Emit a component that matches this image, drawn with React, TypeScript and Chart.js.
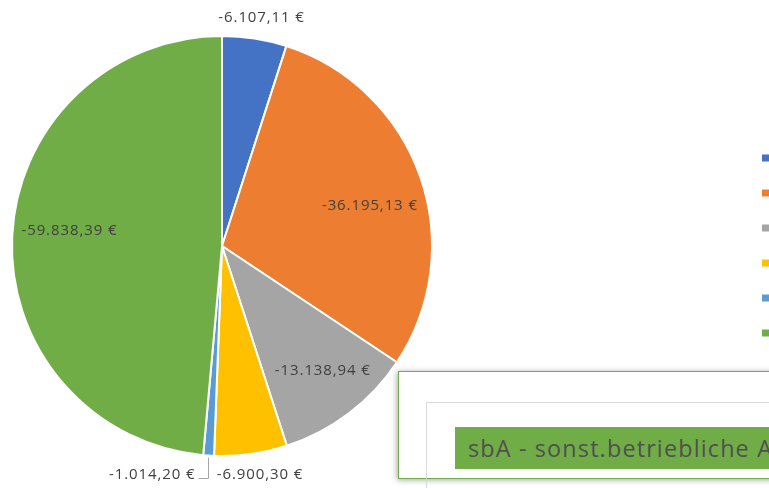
import React, { useEffect, useRef } from "react";
import { Chart, registerables } from "chart.js";

Chart.register(...registerables);

const categories = [
  "sbA - Position 1",
  "sbA - Position 2",
  "sbA - Position 3",
  "sbA - Position 4",
  "sbA - Position 5",
  "sbA - Position 6",
];
const values = [-6107.11, -36195.13, -13138.94, -6900.3, -1014.2, -59838.39];
const colors = ["#4472C4", "#ED7D31", "#A5A5A5", "#FFC000", "#5B9BD5", "#70AD47"];
// label placement style per slice: "outside", "inside", "leader"
const labelModes = ["outside", "inside", "inside", "outside", "leader", "inside"];
const labelRadius = [1.1, 0.73, 0.765, 1.1, 1, 0.73];
const labelAngleShift = [0.9, 4, -1.7, -1.5, 0, 3];
const boxTitle = "sbA - sonst.betriebliche Aufwendungen";

const FONT = "'Open Sans', Lato, sans-serif";

function fmt(v: number): string {
  const neg = v < 0;
  const a = Math.abs(v);
  const fixed = a.toFixed(2);
  const [intPart, dec] = fixed.split(".");
  const withDots = intPart.replace(/\B(?=(\d{3})+(?!\d))/g, ".");
  return (neg ? "-" : "") + withDots + "," + dec + " €";
}

function drawSpaced(ctx: any, text: string, x: number, y: number, align: string) {
  ctx.textAlign = "left";
  const w = ctx.measureText(text).width;
  let sx = x;
  if (align === "center") sx = x - w / 2;
  else if (align === "right") sx = x - w;
  ctx.fillText(text, sx, y);
}

const labelPlugin = {
  id: "sliceLabels",
  afterDatasetsDraw(chart: any) {
    const ctx = chart.ctx;
    const meta = chart.getDatasetMeta(0);
    const data = chart.data.datasets[0].data as number[];
    ctx.save();
    ctx.font = `15px ${FONT}`;
    try {
      ctx.letterSpacing = "0.9px";
    } catch (e) {}
    ctx.fillStyle = "#404040";
    ctx.textBaseline = "middle";
    meta.data.forEach((arc: any, i: number) => {
      const { x, y, startAngle, endAngle, outerRadius } = arc.getProps(
        ["x", "y", "startAngle", "endAngle", "outerRadius"],
        true
      );
      const mid = (startAngle + endAngle) / 2 + (labelAngleShift[i] * Math.PI) / 180;
      const text = fmt(data[i]);
      const mode = labelModes[i];
      if (mode === "inside") {
        const r = outerRadius * labelRadius[i];
        drawSpaced(ctx, text, x + Math.cos(mid) * r, y + Math.sin(mid) * r, "center");
      } else if (mode === "outside") {
        const r = outerRadius + 22;
        drawSpaced(ctx, text, x + Math.cos(mid) * r, y + Math.sin(mid) * r, "center");
      } else {
        const ex = x + Math.cos(mid) * (outerRadius + 2);
        const ey = y + Math.sin(mid) * (outerRadius + 2);
        const by = ey + 20;
        const lx = ex - 10;
        ctx.strokeStyle = "#A6A6A6";
        ctx.lineWidth = 1;
        ctx.beginPath();
        ctx.moveTo(Math.round(ex) + 0.5, ey);
        ctx.lineTo(Math.round(ex) + 0.5, Math.round(by) + 0.5);
        ctx.lineTo(lx, Math.round(by) + 0.5);
        ctx.stroke();
        drawSpaced(ctx, text, lx - 3, by - 3, "right");
      }
    });
    ctx.restore();
  },
};

const legendMarkers = {
  id: "legendMarkers",
  afterDraw(chart: any) {
    const ctx = chart.ctx;
    ctx.save();
    const x0 = 762;
    const y0 = 158;
    const step = 35;
    categories.forEach((c, i) => {
      const cy = y0 + i * step;
      ctx.fillStyle = colors[i];
      ctx.fillRect(x0, cy - 3.5, 7, 7);
      ctx.fillStyle = "#595959";
      ctx.font = `13px ${FONT}`;
      ctx.textBaseline = "middle";
      ctx.textAlign = "left";
      ctx.fillText(c, x0 + 12, cy);
    });
    ctx.restore();
  },
};

export default function App() {
  const ref = useRef<HTMLCanvasElement | null>(null);
  useEffect(() => {
    document.body.style.margin = "0";
    const chart = new Chart(ref.current!, {
      type: "pie",
      data: {
        labels: categories,
        datasets: [
          {
            data: values,
            backgroundColor: colors,
            borderColor: "#FFFFFF",
            borderWidth: 2,
          },
        ],
      },
      options: {
        responsive: false,
        animation: false,
        devicePixelRatio: 1,
        layout: { padding: { left: 11, top: 35, right: 336, bottom: 31 } },
        plugins: {
          legend: { display: false },
          tooltip: { enabled: false },
        },
      },
      plugins: [labelPlugin, legendMarkers],
    });
    return () => chart.destroy();
  }, []);

  return (
    <div
      style={{
        position: "fixed",
        left: 0,
        top: 0,
        width: 769,
        height: 488,
        overflow: "hidden",
        background: "#fff",
      }}
    >
      <canvas ref={ref} width={769} height={488} style={{ position: "absolute", left: 0, top: 0 }} />
      <div
        style={{
          position: "absolute",
          left: 398,
          top: 371,
          width: 500,
          height: 106,
          border: "1.5px solid #70AD47",
          boxShadow: "-1px 1px 6px rgba(0,0,0,0.35)",
          background: "#fff",
        }}
      />
      <div
        style={{
          position: "absolute",
          left: 426,
          top: 402,
          width: 500,
          height: 200,
          border: "1px solid #D9D9D9",
        }}
      />
      <div
        style={{
          position: "absolute",
          left: 455,
          top: 427,
          width: 500,
          height: 42,
          background: "#70AD47",
          color: "#505050",
          fontFamily: FONT,
          fontSize: 23.4,
          letterSpacing: 1.15,
          lineHeight: "42px",
          paddingLeft: 13,
          whiteSpace: "nowrap",
          boxSizing: "border-box",
        }}
      >
        {boxTitle}
      </div>
    </div>
  );
}
